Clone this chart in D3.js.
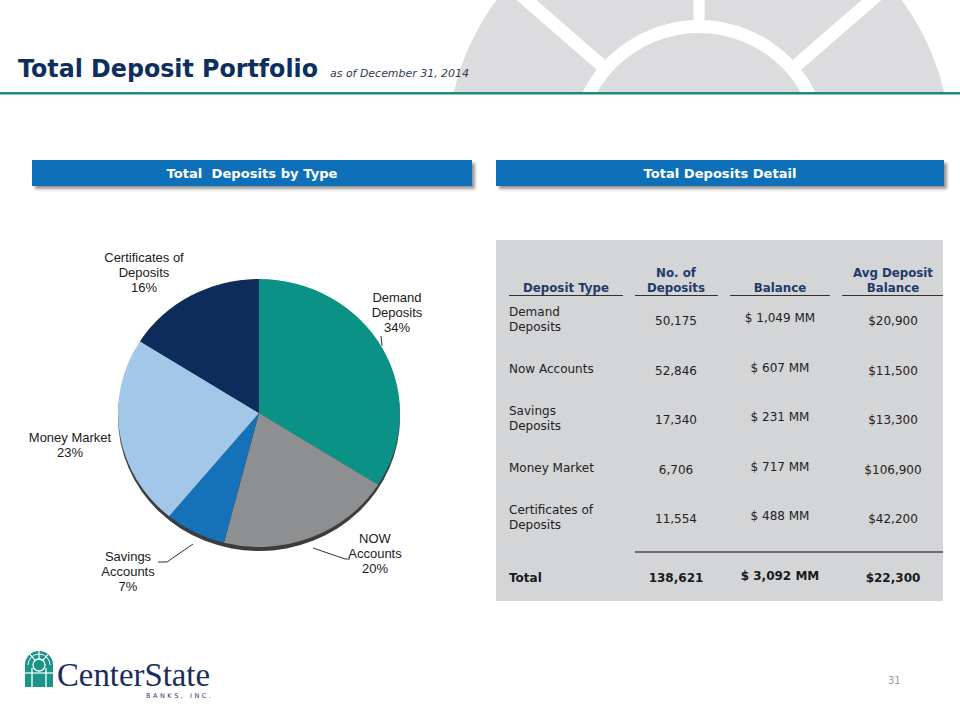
<!DOCTYPE html>
<html><head><meta charset="utf-8">
<script src="https://cdn.jsdelivr.net/npm/d3@7"></script>
<style>body{margin:0;background:#fff}svg{display:block}</style>
</head><body>
<svg id="c" width="960" height="720"></svg>
<script>
// ---- data ----
const pieCategories = ["Demand Deposits","NOW Accounts","Savings Accounts","Money Market","Certificates of Deposits"];
const pieShares = [34, 20, 7, 23, 16];
const pieLabelLines = [["Demand","Deposits","34%"],["NOW","Accounts","20%"],["Savings","Accounts","7%"],["Money Market","23%"],["Certificates of","Deposits","16%"]];
const pieColors = ["#0a9286","#8e8f91","#1571b8","#a3c7e8","#0d2b5b"];

const tableHeaders = [["Deposit Type"],["No. of","Deposits"],["Balance"],["Avg Deposit","Balance"]];
const depositTypes = [["Demand","Deposits"],["Now Accounts"],["Savings","Deposits"],["Money Market"],["Certificates of","Deposits"]];
const numDeposits = ["50,175","52,846","17,340","6,706","11,554"];
const balances = ["$ 1,049 MM","$ 607 MM","$ 231 MM","$ 717 MM","$ 488 MM"];
const avgBalances = ["$20,900","$11,500","$13,300","$106,900","$42,200"];
const totalRow = ["Total","138,621","$ 3,092 MM","$22,300"];

// ---- drawing ----
const svg = d3.select("#c");
const defs = svg.append("defs");
defs.append("clipPath").attr("id","topclip").append("rect").attr("x",0).attr("y",0).attr("width",960).attr("height",92);
const f = defs.append("filter").attr("id","sh").attr("x","-5%").attr("y","-30%").attr("width","115%").attr("height","180%");
f.append("feDropShadow").attr("dx",3).attr("dy",3).attr("stdDeviation",1.5).attr("flood-color","#444").attr("flood-opacity",0.55);

// watermark
const wm = svg.append("g").attr("clip-path","url(#topclip)").append("g").attr("transform","translate(699,150)");
wm.append("circle").attr("r",252).attr("fill","#dcdcde");
[-49,0,49].forEach(a=>{
  const t = a*Math.PI/180;
  wm.append("line").attr("x1",0).attr("y1",0).attr("x2",300*Math.sin(t)).attr("y2",-300*Math.cos(t))
    .attr("stroke","#fff").attr("stroke-width",a===0?11:13);
});
wm.append("circle").attr("r",130).attr("fill","#fff");
wm.append("circle").attr("r",117).attr("fill","#dcdcde");

// title
svg.append("text").attr("x",18).attr("y",77).attr("font-family","DejaVu Sans").attr("font-weight","bold")
  .attr("font-size",24).attr("fill","#0d2f5e").attr("textLength",300).attr("lengthAdjust","spacingAndGlyphs").text("Total Deposit Portfolio");
svg.append("text").attr("x",330).attr("y",77).attr("font-family","DejaVu Sans").attr("font-style","italic")
  .attr("font-size",10).attr("fill","#2d3a55").attr("textLength",139).attr("lengthAdjust","spacingAndGlyphs").text("as of December 31, 2014");
svg.append("rect").attr("x",0).attr("y",92).attr("width",960).attr("height",2.5).attr("fill","#1b8a80");

// banners
[[32,440,"Total  Deposits by Type",171],[496,448,"Total Deposits Detail",153]].forEach(([x,w,t,tl])=>{
  svg.append("rect").attr("x",x).attr("y",160).attr("width",w).attr("height",26).attr("fill","#0b6fb8").attr("filter","url(#sh)");
  svg.append("text").attr("x",x+w/2).attr("y",178).attr("text-anchor","middle").attr("font-family","DejaVu Sans")
    .attr("font-weight","bold").attr("font-size",12.5).attr("fill","#fff").attr("textLength",tl).attr("lengthAdjust","spacingAndGlyphs")
    .style("white-space","pre").text(t);
});

// pie
const cx=259, cy=413, rx=141, ry=134;
svg.append("ellipse").attr("cx",cx).attr("cy",cy+4).attr("rx",rx).attr("ry",ry).attr("fill","#3c3c3c");
const pg = svg.append("g").attr("transform",`translate(${cx},${cy}) scale(1,${ry/rx})`);
const pie = d3.pie().sort(null).value(d=>d)(pieShares);
const arc = d3.arc().innerRadius(0).outerRadius(rx);
pg.selectAll("path").data(pie).join("path").attr("d",arc).attr("fill",(d,i)=>pieColors[i]);

// pie labels (layout positions)
const labelPos = [[397,302],[375,543],[128,561],[70,442],[144,262]];
const lg = svg.append("g").attr("font-family","Liberation Sans, Arial").attr("font-size",13).attr("fill","#1a1a1a").attr("text-anchor","middle");
pieLabelLines.forEach((lines,i)=>{
  const t = lg.append("text").attr("x",labelPos[i][0]).attr("y",labelPos[i][1]);
  lines.forEach((s,j)=>t.append("tspan").attr("x",labelPos[i][0]).attr("dy",j?14.8:0).text(s));
});
// leader lines
const leaders = [[[381,336],[382,346]],[[313,548],[345,559],[350,559]],[[193,544],[167,562],[158,562]]];
leaders.forEach(p=>svg.append("path").attr("d",d3.line()(p)).attr("fill","none").attr("stroke","#1a1a1a").attr("stroke-width",0.9));

// table
svg.append("rect").attr("x",496).attr("y",240).attr("width",447).attr("height",361).attr("fill","#d4d5d7");
const colX = [566,676,780,893];
const headSeg = [[509,623],[635,718],[730,830],[842,943]];
const tg = svg.append("g").attr("font-family","DejaVu Sans");
tableHeaders.forEach((lines,i)=>{
  const t = tg.append("text").attr("x",colX[i]).attr("text-anchor","middle").attr("font-weight","bold").attr("font-size",11.8).attr("fill","#1f3a6b");
  lines.forEach((s,j)=>t.append("tspan").attr("x",colX[i]).attr("y",292-(lines.length-1-j)*15).text(s));
  tg.append("line").attr("x1",headSeg[i][0]).attr("x2",headSeg[i][1]).attr("y1",295.5).attr("y2",295.5).attr("stroke","#333").attr("stroke-width",1.2);
});
const rowY = [324,374,423,473,522];
depositTypes.forEach((lines,r)=>{
  const t = tg.append("text").attr("x",509).attr("font-size",12).attr("fill","#222");
  const y0 = lines.length===2 ? rowY[r]-8 : rowY[r]-1;
  lines.forEach((s,j)=>t.append("tspan").attr("x",509).attr("y",y0+j*14.5).text(s));
  [numDeposits[r],balances[r],avgBalances[r]].forEach((v,k)=>{
    tg.append("text").attr("x",colX[k+1]).attr("y",rowY[r]+(k===1?-2:1)).attr("text-anchor","middle").attr("font-size",12).attr("fill","#222").text(v);
  });
});
tg.append("line").attr("x1",635).attr("x2",943).attr("y1",552).attr("y2",552).attr("stroke","#6d6d6f").attr("stroke-width",2);
totalRow.forEach((v,k)=>{
  tg.append("text").attr("x",k===0?509:colX[k]).attr("y",k===2?580:582).attr("text-anchor",k===0?"start":"middle")
    .attr("font-weight","bold").attr("font-size",12).attr("fill","#1a1a1a").text(v);
});

// logo
const logo = svg.append("g");
logo.append("path").attr("d","M25,687 L25,665 A14,14 0 0 1 53,665 L53,687 Z").attr("fill","#1a9487");
logo.append("circle").attr("cx",39).attr("cy",665).attr("r",6).attr("fill","#1a9487").attr("stroke","#fff").attr("stroke-width",1.3);
[[-40],[0],[40]].forEach(([a])=>{const t=a*Math.PI/180;
  logo.append("line").attr("x1",39+6*Math.sin(t)).attr("y1",665-6*Math.cos(t)).attr("x2",39+14*Math.sin(t)).attr("y2",665-14*Math.cos(t)).attr("stroke","#fff").attr("stroke-width",1.2);});
logo.append("path").attr("d","M28,665 A11,11 0 0 1 50,665").attr("fill","none").attr("stroke","#fff").attr("stroke-width",1);
[32,46].forEach(x=>logo.append("line").attr("x1",x).attr("x2",x).attr("y1",668).attr("y2",687).attr("stroke","#fff").attr("stroke-width",1.3));
logo.append("line").attr("x1",25).attr("x2",53).attr("y1",673).attr("y2",673).attr("stroke","#fff").attr("stroke-width",1.2);
logo.append("text").attr("x",57).attr("y",686).attr("font-family","Liberation Serif, Times New Roman").attr("font-size",33)
  .attr("fill","#1b2d5c").attr("textLength",153).attr("lengthAdjust","spacingAndGlyphs").text("CenterState");
logo.append("text").attr("x",146).attr("y",698).attr("font-family","DejaVu Sans").attr("font-size",6.5).attr("fill","#2a3b66")
  .attr("textLength",65).attr("lengthAdjust","spacing").text("BANKS, INC.");

// page number
svg.append("text").attr("x",888).attr("y",684).attr("font-family","DejaVu Sans").attr("font-size",10).attr("fill","#9a9a9a").text("31");
</script>
</body></html>
